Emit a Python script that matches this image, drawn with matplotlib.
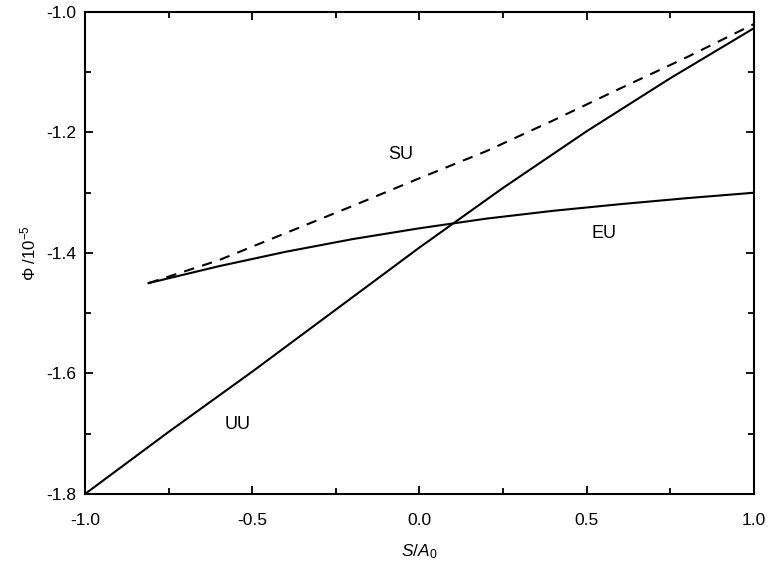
import matplotlib
matplotlib.use("Agg")
import matplotlib.pyplot as plt
from matplotlib.ticker import MultipleLocator

plt.rcParams['font.family'] = ['Liberation Sans', 'DejaVu Sans']
plt.rcParams['mathtext.fontset'] = 'custom'
plt.rcParams['mathtext.rm'] = 'Liberation Sans'
plt.rcParams['mathtext.it'] = 'Liberation Sans:italic'

# UU curve
uu_x = [-1.0, -0.75, -0.5, -0.25, 0.0, 0.25, 0.5, 0.75, 1.0]
uu_y = [-1.800, -1.697, -1.597, -1.494, -1.391, -1.292, -1.198, -1.110, -1.027]

# EU curve
eu_x = [-0.81, -0.6, -0.4, -0.2, 0.0, 0.2, 0.4, 0.6, 0.8, 1.0]
eu_y = [-1.450, -1.422, -1.398, -1.377, -1.359, -1.343, -1.330, -1.319, -1.309, -1.300]

# SU curve (dashed)
su_x = [-0.81, -0.6, -0.4, -0.2, 0.0, 0.2, 0.4, 0.6, 0.8, 1.0]
su_y = [-1.450, -1.412, -1.367, -1.322, -1.276, -1.231, -1.180, -1.127, -1.075, -1.020]

labels = ["SU", "EU", "UU"]
label_x = [-0.057, 0.551, -0.545]
label_y = [-1.237, -1.368, -1.684]

fig = plt.figure(figsize=(7.7, 5.63), dpi=100)
ax = fig.add_axes([0.1104, 0.1226, 0.8686, 0.8561])

ax.plot(uu_x, uu_y, color='black', lw=1.5)
ax.plot(eu_x, eu_y, color='black', lw=1.5)
ax.plot(su_x, su_y, color='black', lw=1.5, ls=(0, (5, 4)))

for t, x, y in zip(labels, label_x, label_y):
    ax.text(x, y, t, fontsize=13, ha='center', va='center')

ax.set_xlim(-1.0, 1.0)
ax.set_ylim(-1.8, -1.0)
ax.xaxis.set_major_locator(MultipleLocator(0.5))
ax.xaxis.set_minor_locator(MultipleLocator(0.25))
ax.yaxis.set_major_locator(MultipleLocator(0.2))
ax.yaxis.set_minor_locator(MultipleLocator(0.1))
ax.xaxis.set_major_formatter(lambda v, p: f"{v:.1f}")
ax.yaxis.set_major_formatter(lambda v, p: f"{v:.1f}")

ax.tick_params(which='both', direction='in', top=True, right=True, width=1.3, labelsize=12.5)
ax.tick_params(which='major', length=6)
ax.tick_params(axis='y', which='major', pad=6)
ax.tick_params(axis='x', which='major', pad=14)
ax.tick_params(which='minor', length=4)
for s in ax.spines.values():
    s.set_linewidth(1.5)

ax.set_xlabel(r"$\mathit{S}$/$\mathit{A}_\mathrm{0}$", fontsize=12.5, labelpad=10)
ax.set_ylabel(r"Φ /10$^{-5}$", fontsize=12, labelpad=6)

fig.savefig("out.png", dpi=100)
